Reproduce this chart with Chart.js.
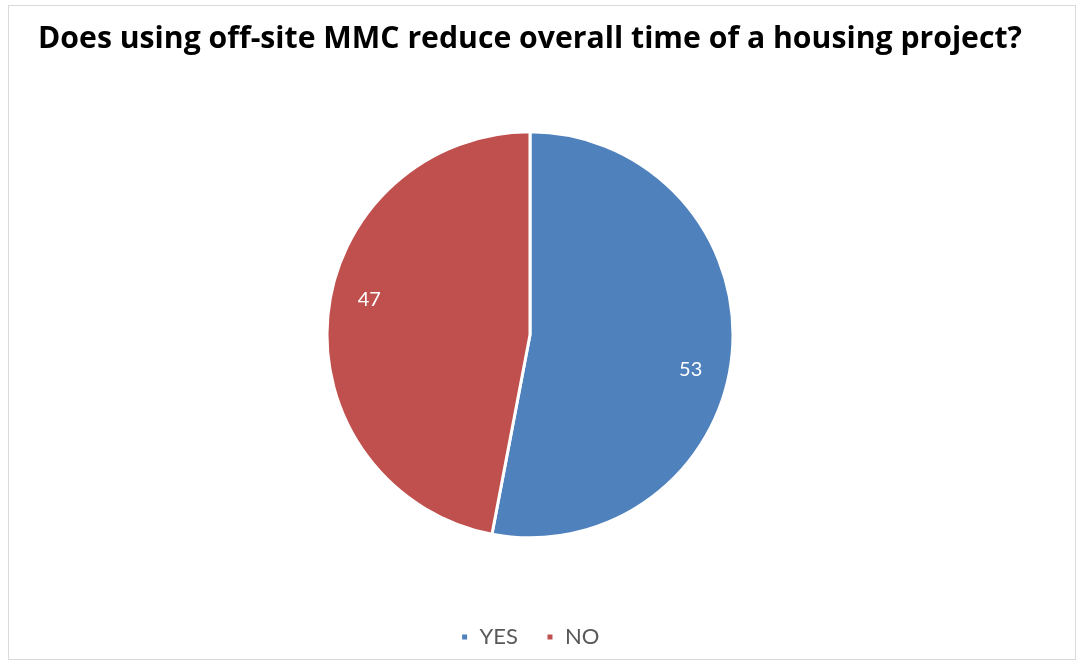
<!DOCTYPE html>
<html>
<head>
<meta charset="utf-8">
<script src="https://cdn.jsdelivr.net/npm/chart.js@4.4.1/dist/chart.umd.min.js"></script>
<style>
  html, body { margin: 0; padding: 0; background: #ffffff; }
  .wrap { position: relative; width: 1083px; height: 666px; }
  .frame { position: absolute; left: 8px; top: 5px; width: 1066px; height: 653px;
           border: 1px solid #d9d9d9; pointer-events: none; }
</style>
</head>
<body>
<div class="wrap">
  <canvas id="pie" width="1083" height="666"></canvas>
  <div class="frame"></div>
</div>
<script>
const titleText = 'Does using off-site MMC reduce overall time of a housing project?';
const categories = ['YES', 'NO'];
const values = [53, 47];
const colors = ['#4F81BD', '#C0504D'];

// 값 라벨 (datalabels 플러그인 대신 직접 그림)
const sliceLabels = {
  id: 'sliceLabels',
  afterDatasetsDraw(chart) {
    const ctx = chart.ctx;
    const meta = chart.getDatasetMeta(0);
    ctx.save();
    ctx.fillStyle = '#ffffff';
    ctx.font = '20px Lato';
    ctx.textAlign = 'center';
    ctx.textBaseline = 'middle';
    meta.data.forEach((arc, i) => {
      const p = arc.getProps(['x', 'y', 'startAngle', 'endAngle', 'outerRadius'], true);
      const mid = (p.startAngle + p.endAngle) / 2 + 0.12;
      const r = p.outerRadius * 0.81;
      ctx.fillText(String(values[i]), p.x + Math.cos(mid) * r, p.y + Math.sin(mid) * r);
    });
    ctx.restore();
  }
};

new Chart(document.getElementById('pie').getContext('2d'), {
  type: 'pie',
  data: {
    labels: categories,
    datasets: [{
      data: values,
      backgroundColor: colors,
      borderColor: '#ffffff',
      borderWidth: 3,
      radius: 203
    }]
  },
  options: {
    responsive: false,
    animation: false,
    layout: { padding: { left: 38, right: 61, top: 0, bottom: 8 } },
    plugins: {
      title: {
        display: true,
        align: 'start',
        text: titleText,
        color: '#000000',
        font: { family: 'Open Sans', size: 30.5, weight: 'bold' },
        padding: { top: 21, bottom: 14 }
      },
      legend: {
        position: 'bottom',
        align: 'center',
        labels: {
          color: '#595959',
          font: { family: 'Lato', size: 22 },
          boxWidth: 8,
          boxHeight: 8,
          padding: 28
        }
      },
      tooltip: { enabled: false }
    }
  },
  plugins: [sliceLabels]
});
</script>
</body>
</html>
